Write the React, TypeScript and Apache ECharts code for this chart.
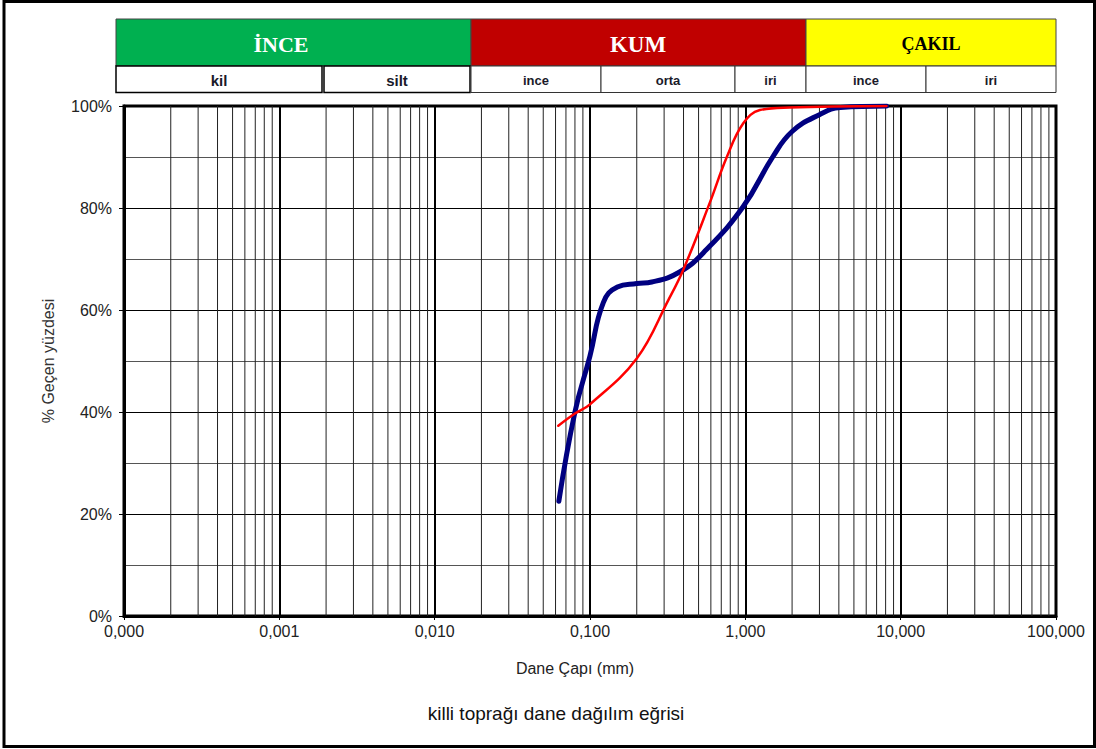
import React, { useEffect, useRef } from "react";
import * as echarts from "echarts";

// Grain size distribution data (mm, % passing)
const blueCurve: [number, number][] = [
  [0.063, 22.5], [0.08, 40], [0.1, 51], [0.122, 61.5], [0.15, 64.5], [0.2, 65.2],
  [0.25, 65.5], [0.38, 67.5], [0.56, 71.8], [0.97, 80.3], [1.5, 90], [2.0, 95.0],
  [3.0, 98.3], [4.1, 99.7], [8.1, 100],
];
const redCurve: [number, number][] = [
  [0.0625, 37.3], [0.08, 39.7], [0.1, 41.5], [0.2, 50.5], [0.32, 62], [0.4, 68],
  [0.59, 81], [0.76, 90], [0.97, 96.6], [1.24, 99.2], [1.93, 99.7], [8.1, 100],
];
const decades = [0.0001, 0.001, 0.01, 0.1, 1, 10];
const minorMultipliers = [2, 3, 4, 5, 6, 7, 8, 9];

const mainBands = [
  { label: "İNCE", x0: 116, x1: 471, cx: 281, size: 22, fill: "#00B050", text: "#ffffff" },
  { label: "KUM", x0: 471, x1: 806, cx: 638, size: 23, fill: "#C00000", text: "#ffffff" },
  { label: "ÇAKIL", x0: 806, x1: 1056, cx: 931, size: 18, fill: "#FFFF00", text: "#000000" },
];
const subBands = [
  { label: "kil", x0: 116, x1: 322, big: true },
  { label: "silt", x0: 324, x1: 470, big: true },
  { label: "ince", x0: 471, x1: 601, big: false },
  { label: "orta", x0: 601, x1: 735, big: false },
  { label: "iri", x0: 735, x1: 806, big: false },
  { label: "ince", x0: 806, x1: 926, big: false },
  { label: "iri", x0: 926, x1: 1056, big: false },
];

const SANS = "'Liberation Sans', Arial, sans-serif";
const SERIF = "'Liberation Serif', 'Times New Roman', serif";

export default function App() {
  const ref = useRef<HTMLDivElement>(null);
  useEffect(() => {
    if (!ref.current) return;
    const chart = echarts.init(ref.current, undefined, { renderer: "svg" });

    const minorValues: number[][] = [];
    decades.forEach((d) => minorMultipliers.forEach((m) => minorValues.push([d * m])));

    const graphic: any[] = [];
    graphic.push({
      type: "rect",
      shape: { x: 4, y: 1.5, width: 1090.5, height: 745 },
      style: { fill: "none", stroke: "#000", lineWidth: 3 },
      silent: true,
    });
    mainBands.forEach((b) => {
      graphic.push({
        type: "rect",
        shape: { x: b.x0, y: 19, width: b.x1 - b.x0, height: 47 },
        style: { fill: b.fill, stroke: "#444", lineWidth: 1 },
      });
      graphic.push({
        type: "text",
        x: b.cx,
        y: 44,
        style: {
          text: b.label, fill: b.text, fontFamily: SERIF, fontWeight: "bold", fontSize: b.size,
          align: "center", verticalAlign: "middle",
        },
      });
    });
    subBands.forEach((b) => {
      graphic.push({
        type: "rect",
        shape: { x: b.x0, y: 66, width: b.x1 - b.x0, height: 26.5 },
        style: { fill: "#fff", stroke: b.big ? "#000" : "#333", lineWidth: b.big ? 1.5 : 1 },
      });
      graphic.push({
        type: "text",
        x: (b.x0 + b.x1) / 2,
        y: 80,
        style: {
          text: b.label, fill: "#1a1a2a", fontFamily: SANS, fontWeight: "bold",
          fontSize: b.big ? 15 : 13, align: "center", verticalAlign: "middle",
        },
      });
    });
    graphic.push({
      type: "text",
      x: 556,
      y: 713,
      style: {
        text: "killi toprağı dane dağılım eğrisi", fill: "#111", fontFamily: SANS,
        fontSize: 19, align: "center", verticalAlign: "middle",
      },
    });

    chart.setOption({
      animation: false,
      grid: {
        left: 124, top: 106, right: 40, bottom: 133,
        show: true, borderColor: "#000", borderWidth: 3, backgroundColor: "#fff",
      },
      xAxis: {
        type: "log",
        logBase: 10,
        min: 0.0001,
        max: 100,
        splitNumber: 6,
        name: "Dane Çapı (mm)",
        nameLocation: "middle",
        nameGap: 44,
        nameTextStyle: { fontFamily: SANS, fontSize: 16, color: "#222", padding: [0, 30, 0, 0] },
        axisLine: { show: true, lineStyle: { color: "#000", width: 3 } },
        axisTick: { show: true, length: 4, lineStyle: { color: "#000" } },
        axisLabel: {
          fontFamily: SANS, fontSize: 16, color: "#222", margin: 7,
          formatter: (v: number) => v.toFixed(3).replace(".", ","),
        },
        splitLine: { show: true, lineStyle: { color: "#000", width: 2 } },
        minorTick: { show: false },
        minorSplitLine: { show: false },
      },
      yAxis: {
        type: "value",
        min: 0,
        max: 100,
        interval: 20,
        name: "% Geçen yüzdesi",
        nameLocation: "middle",
        nameGap: 68,
        nameTextStyle: { fontFamily: SANS, fontSize: 16, color: "#333" },
        axisLine: { show: true, lineStyle: { color: "#000", width: 3 } },
        axisTick: { show: true, length: 5, lineStyle: { color: "#000" } },
        axisLabel: { fontFamily: SANS, fontSize: 16, color: "#222", margin: 12, formatter: "{value}%" },
        splitLine: { show: true, lineStyle: { color: "#000", width: 1 } },
        minorTick: { show: false, splitNumber: 2 },
        minorSplitLine: { show: true, lineStyle: { color: "#555", width: 1 } },
      },
      graphic,
      series: [
        {
          type: "custom",
          z: 1,
          silent: true,
          data: minorValues,
          encode: { x: 0 },
          clip: true,
          renderItem: (params: any, api: any) => {
            const v = api.value(0);
            const p0 = api.coord([v, 0]);
            const p1 = api.coord([v, 100]);
            return {
              type: "line",
              shape: { x1: p0[0], y1: p0[1], x2: p1[0], y2: p1[1] },
              style: { stroke: "#222", lineWidth: 1 },
            };
          },
        },
        {
          name: "blue",
          type: "line",
          data: blueCurve,
          z: 3,
          smooth: 0.45,
          showSymbol: false,
          lineStyle: { color: "#000080", width: 5, cap: "round" },
        },
        {
          name: "red",
          type: "line",
          data: redCurve,
          z: 4,
          smooth: 0.4,
          showSymbol: false,
          lineStyle: { color: "#ff0000", width: 2.5, cap: "round" },
        },
      ],
    });
    return () => chart.dispose();
  }, []);
  return (
    <div
      ref={ref}
      style={{ position: "fixed", left: 0, top: 0, width: 1096, height: 749, background: "#fff" }}
    />
  );
}
